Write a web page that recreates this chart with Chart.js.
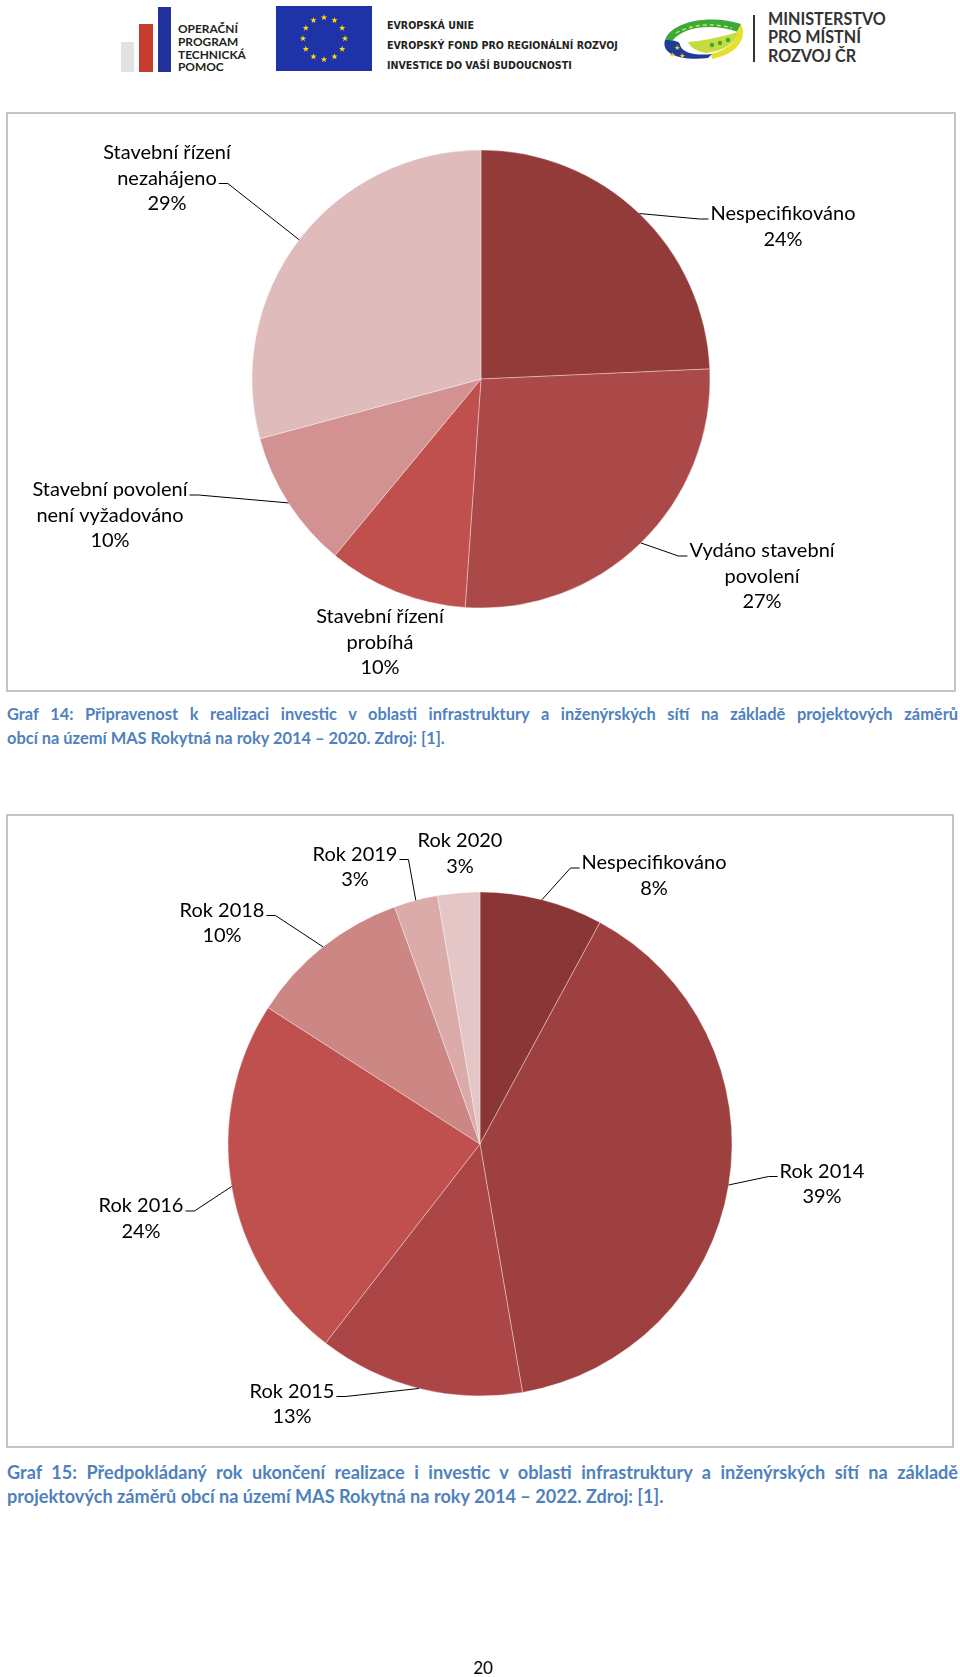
<!DOCTYPE html>
<html>
<head>
<meta charset="utf-8">
<script src="https://cdn.jsdelivr.net/npm/chart.js@4.4.1/dist/chart.umd.min.js"></script>
<style>
  html, body { margin:0; padding:0; background:#fff; }
  body { width:960px; height:1677px; position:relative; overflow:hidden; font-family:Lato, "Open Sans", sans-serif; }
  .abs { position:absolute; }
  .box { position:absolute; border:2px solid #C4C4C4; box-sizing:border-box; }
  .cap { position:absolute; left:7px; color:#4F81BD; font-weight:bold; font-size:16px; line-height:24px; white-space:nowrap; }
  .just { width:951px; white-space:normal; text-align:justify; text-align-last:justify; }
  .fit { display:inline-block; white-space:nowrap; }
  .hdrtxt { position:absolute; font-weight:bold; white-space:nowrap; }
</style>
</head>
<body>
<script>
// ---------------- DATA ----------------
const categories1 = ["Nespecifikováno", "Vydáno stavební povolení", "Stavební řízení probíhá", "Stavební povolení není vyžadováno", "Stavební řízení nezahájeno"];
const values1 = [24.3, 26.8, 9.9, 9.8, 29.2];
const colors1 = ["#923B39", "#AB4948", "#C0504D", "#D29291", "#E0BBBB"];

const categories2 = ["Nespecifikováno", "Rok 2014", "Rok 2015", "Rok 2016", "Rok 2018", "Rok 2019", "Rok 2020"];
const values2 = [7.9, 39.4, 13.2, 23.6, 10.4, 2.8, 2.7];
const colors2 = ["#8A3636", "#9F4040", "#AC4646", "#BF504D", "#CC8684", "#DBABAA", "#E5C6C6"];

const caption1 = ["Graf 14: Připravenost k realizaci investic v oblasti infrastruktury a inženýrských sítí na základě projektových záměrů",
                  "obcí na území MAS Rokytná na roky 2014 – 2020. Zdroj: [1]."];
const caption2 = ["Graf 15: Předpokládaný rok ukončení realizace i investic v oblasti infrastruktury a inženýrských sítí na základě",
                  "projektových záměrů obcí na území MAS Rokytná na roky 2014 – 2022. Zdroj: [1]."];
const pageNumber = "20";
</script>

<!-- header -->
<div class="abs" style="left:121px;top:42px;width:13px;height:30px;background:#E2E2E2"></div>
<div class="abs" style="left:139px;top:24px;width:14px;height:48px;background:#C63C2C"></div>
<div class="abs" style="left:158px;top:7px;width:13px;height:65px;background:#23329A"></div>
<div class="hdrtxt" style="left:178px;top:23px;font-size:12px;line-height:12.8px;color:#231F20">
  <span class="fit" id="optp1">OPERAČNÍ</span><br><span class="fit">PROGRAM</span><br><span class="fit" id="optp3">TECHNICKÁ</span><br><span class="fit">POMOC</span>
</div>
<svg class="abs" id="euflag" style="left:276px;top:6px" width="96" height="65" viewBox="0 0 96 65"><rect width="96" height="65" fill="#1F33A8"/></svg>
<div class="hdrtxt" style="left:387px;top:15px;font-size:10.5px;line-height:20px;color:#231F20;font-family:'DejaVu Sans Condensed','Liberation Sans Narrow',Lato">
  <span class="fit" id="eu1">EVROPSKÁ UNIE</span><br><span class="fit" id="eu2">EVROPSKÝ FOND PRO REGIONÁLNÍ ROZVOJ</span><br><span class="fit" id="eu3">INVESTICE DO VAŠÍ BUDOUCNOSTI</span>
</div>
<svg class="abs" style="left:662px;top:15px" width="82" height="46" viewBox="0 0 82 46">
  <path d="M3 25 C 8 8, 45 -2, 79 9 L 76 17 C 52 8, 22 11, 11 25 Z" fill="#3BA935"/>
  <path d="M14 18 C 30 9, 52 8, 70 13" stroke="#C9E26A" stroke-width="1.5" fill="none" stroke-dasharray="4 3"/>
  <path d="M79 9 C 86 24, 74 40, 50 44 L 49 39 C 66 35, 76 26, 75 16 Z" fill="#E6DF2E"/>
  <path d="M76 17 C 74 28, 62 36, 44 38 C 34 36, 28 32, 26 27 C 40 26, 60 22, 76 17 Z" fill="#C6DB3E"/>
  <circle cx="50" cy="30" r="2.2" fill="#3BA935"/><circle cx="58" cy="28" r="2.2" fill="#3BA935"/><circle cx="66" cy="25" r="2.2" fill="#3BA935"/>
  <path d="M3 25 C -1 38, 16 46, 46 43 L 50 39 C 34 41, 20 38, 18 30 C 18 27, 14 25, 3 25 Z" fill="#1F3C95"/>
  <text x="12" y="35" font-size="7" fill="#F2D21B">★</text><text x="7" y="42" font-size="7" fill="#F2D21B">★</text><text x="17" y="43" font-size="7" fill="#F2D21B">★</text>
</svg>
<div class="abs" style="left:753px;top:15px;width:1.5px;height:47px;background:#333"></div>
<div class="hdrtxt" style="left:768px;top:10px;font-size:16px;line-height:18.3px;color:#333">
  <span class="fit" id="mmr1">MINISTERSTVO</span><br><span class="fit">PRO MÍSTNÍ</span><br><span class="fit">ROZVOJ ČR</span>
</div>

<!-- boxes -->
<div class="box" style="left:6px;top:112px;width:950px;height:580px"></div>
<div class="box" style="left:6px;top:814px;width:948px;height:634px"></div>

<canvas id="c1" class="abs" style="left:0;top:100px" width="960" height="600"></canvas>
<canvas id="c2" class="abs" style="left:0;top:800px" width="960" height="650"></canvas>

<div class="cap just" id="cap1a" style="top:702px"></div>
<div class="cap" id="cap1b" style="top:726px"></div>
<div class="cap just" id="cap2a" style="top:1460px"></div>
<div class="cap" id="cap2b" style="top:1484px"></div>

<div class="abs" id="pnum" style="left:0;width:966px;top:1656px;text-align:center;font-size:17px;line-height:24px;color:#000"></div>

<script>
// EU stars
(function(){
  const svg = document.getElementById('euflag');
  const cx = 48, cy = 32.5, R = 21;
  for (let i = 0; i < 12; i++) {
    const a = i * Math.PI / 6;
    const x = cx + R * Math.sin(a), y = cy - R * Math.cos(a);
    let pts = [];
    for (let k = 0; k < 10; k++) {
      const rr = k % 2 === 0 ? 3.3 : 1.35;
      const b = k * Math.PI / 5;
      pts.push((x + rr * Math.sin(b)).toFixed(2) + ',' + (y - rr * Math.cos(b)).toFixed(2));
    }
    const p = document.createElementNS('http://www.w3.org/2000/svg', 'polygon');
    p.setAttribute('points', pts.join(' '));
    p.setAttribute('fill', '#FFDD00');
    svg.appendChild(p);
  }
})();

function fitSpan(el, target) {
  const w = el.getBoundingClientRect().width;
  const parent = el.parentElement;
  const fs = parseFloat(getComputedStyle(parent).fontSize);
  parent.style.fontSize = (fs * target / w) + 'px';
}
fitSpan(document.getElementById('optp3'), 68);
fitSpan(document.getElementById('eu2'), 231);
fitSpan(document.getElementById('mmr1'), 118);

// captions
function setCap(id, text) { const d = document.getElementById(id); d.innerHTML = '<span class="fit">' + text + '</span>'; return d; }
const c1b = setCap('cap1b', caption1[1]);
fitSpan(c1b.firstChild, 438);
const c1a = document.getElementById('cap1a');
c1a.textContent = caption1[0];
c1a.style.fontSize = c1b.style.fontSize;
const c2b = setCap('cap2b', caption2[1]);
fitSpan(c2b.firstChild, 657);
const c2a = document.getElementById('cap2a');
c2a.textContent = caption2[0];
c2a.style.fontSize = c2b.style.fontSize;
document.getElementById('pnum').textContent = pageNumber;

// ---------------- CHARTS ----------------
Chart.defaults.font.family = 'Lato';

function wrapText(ctx, text, maxW) {
  const words = text.split(' ');
  const lines = [];
  let cur = '';
  words.forEach(w => {
    const t = cur ? cur + ' ' + w : w;
    if (cur && ctx.measureText(t).width > maxW) { lines.push(cur); cur = w; } else { cur = t; }
  });
  if (cur) lines.push(cur);
  return lines;
}

const outLabels = {
  id: 'outLabels',
  afterDatasetsDraw(chart, args, opts) {
    const ctx = chart.ctx;
    const meta = chart.getDatasetMeta(0);
    const vals = chart.data.datasets[0].data;
    const total = vals.reduce((a, b) => a + b, 0);
    ctx.save();
    ctx.font = opts.font;
    ctx.fillStyle = '#000';
    ctx.strokeStyle = '#000';
    ctx.lineWidth = 1;
    ctx.textAlign = 'center';
    ctx.textBaseline = 'middle';
    meta.data.forEach((arc, i) => {
      const L = opts.layout[i];
      const p = arc.getProps(['x', 'y', 'startAngle', 'endAngle', 'outerRadius'], true);
      const mid = (p.startAngle + p.endAngle) / 2;
      const ax = p.x + Math.cos(mid) * p.outerRadius;
      const ay = p.y + Math.sin(mid) * p.outerRadius;
      const lines = wrapText(ctx, chart.data.labels[i], opts.wrap);
      lines.push(Math.round(vals[i] / total * 100) + '%');
      const bx = p.x + L.dx, by = p.y + L.dy;
      lines.forEach((t, k) => ctx.fillText(t, bx, by + k * opts.lineHeight));
      if (L.side) {
        const li = L.line || 0;
        const w = ctx.measureText(lines[li]).width;
        const ly = by + li * opts.lineHeight + 5;
        let tx, ex;
        if (L.side === 'left') { tx = bx - w / 2 - 2; ex = tx - 9; }
        else { tx = bx + w / 2 + 2; ex = tx + 9; }
        ctx.beginPath();
        ctx.moveTo(ax, ay);
        ctx.lineTo(ex, ly);
        ctx.lineTo(tx, ly);
        ctx.stroke();
      }
    });
    ctx.restore();
  }
};

const labelLayout1 = [
  { dx: 302, dy: -165, side: 'left', line: 0 },
  { dx: 281, dy: 172, side: 'left', line: 0 },
  { dx: -101, dy: 238 },
  { dx: -371, dy: 111, side: 'right', line: 0 },
  { dx: -314, dy: -226, side: 'right', line: 1 }
];
const labelLayout2 = [
  { dx: 174, dy: -281, side: 'left', line: 0 },
  { dx: 342, dy: 27.5, side: 'left', line: 0 },
  { dx: -188, dy: 247.5, side: 'right', line: 0 },
  { dx: -339, dy: 62, side: 'right', line: 0 },
  { dx: -258, dy: -233.5, side: 'right', line: 0 },
  { dx: -125, dy: -289.5, side: 'right', line: 0 },
  { dx: -20, dy: -303 }
];

function makePie(id, labels, data, colors, radius, pad, layout) {
  return new Chart(document.getElementById(id), {
    type: 'pie',
    data: {
      labels: labels,
      datasets: [{
        data: data,
        backgroundColor: colors,
        borderColor: 'rgba(255,255,255,0.35)',
        borderWidth: 1,
        radius: radius
      }]
    },
    options: {
      responsive: false,
      animation: false,
      devicePixelRatio: 1,
      layout: { padding: pad },
      plugins: {
        legend: { display: false },
        tooltip: { enabled: false },
        outLabels: { layout: layout, font: '20px Lato', lineHeight: 25.5, wrap: 170 }
      }
    },
    plugins: [outLabels]
  });
}

makePie('c1', categories1, values1, colors1, 229, { left: 241, right: 239, top: 39, bottom: 81 }, labelLayout1);
makePie('c2', categories2, values2, colors2, 252, { left: 220, right: 220, top: 84, bottom: 46 }, labelLayout2);
</script>
</body>
</html>
